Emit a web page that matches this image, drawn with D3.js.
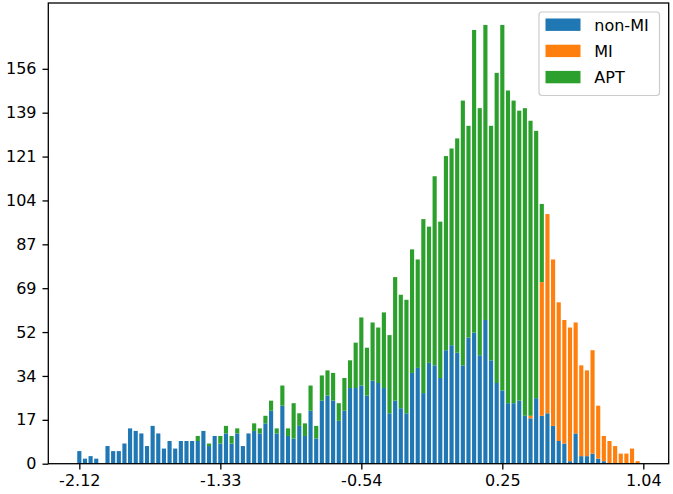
<!DOCTYPE html>
<html>
<head>
<meta charset="utf-8">
<script src="https://cdn.jsdelivr.net/npm/d3@7"></script>
<style>
  html, body { margin: 0; padding: 0; background: #fff; }
  svg { display: block; }
  text { font-family: "DejaVu Sans", sans-serif; fill: #000; }
</style>
</head>
<body>
<svg id="chart" width="673" height="494"></svg>
<script>
// ---- data ----
const binStart = -2.12;
const binWidth = 0.0316;
const nonMI = [5,2,3,2,0,7,5,5,8,14,13,12,7,15,12,6,9,6,9,9,
  9,9,13,7,11,8,12,8,12,7,12,13,12,16,21,12,23,11,10,15,
  11,21,10,25,27,25,17,21,30,30,31,27,33,32,30,20,25,22,20,36,
  38,28,40,39,34,45,47,44,39,50,52,43,57,41,32,29,24,24,25,19,
  18,26,19,20,15,9,8,1,12,3,3,4,2,1,0,0,0,0,0,0];
const MI = [0,0,0,0,0,0,0,0,0,0,0,0,0,0,0,0,0,0,0,0,
  0,0,0,0,0,0,0,0,0,0,0,0,0,0,0,0,0,0,0,0,
  0,0,0,0,0,0,0,0,0,0,0,0,0,0,0,0,0,0,0,0,
  0,0,0,0,0,0,0,0,0,0,0,0,0,0,0,0,0,0,0,0,
  1,0,53,79,66,55,49,53,44,36,34,41,21,10,9,7,4,4,6,1];
const APT = [0,0,0,0,0,0,0,0,0,0,0,0,0,0,0,0,0,0,0,0,
  0,2,0,1,0,3,3,3,2,0,0,3,2,3,4,2,8,3,14,5,
  5,10,5,10,10,11,7,13,11,18,27,19,23,22,30,31,49,45,45,49,
  43,69,54,75,62,77,78,85,105,84,120,98,117,93,123,145,124,120,115,122,
  117,106,31,0,0,0,0,0,0,0,0,0,0,0,0,0,0,0,0,0];
const seriesNames = ["non-MI", "MI", "APT"];
const seriesColors = ["#1f77b4", "#ff7f0e", "#2ca02c"];
const xTickValues = [-2.12, -1.33, -0.54, 0.25, 1.04];
const xTickLabels = ["-2.12", "-1.33", "-0.54", "0.25", "1.04"];
const yTickValues = [0, 17.4, 34.8, 52.2, 69.6, 87, 104.4, 121.8, 139.2, 156.6];
const yTickLabels = ["0", "17", "34", "52", "69", "87", "104", "121", "139", "156"];

// ---- layout ----
const svg = d3.select("#chart");
const L = 48.3, R = 668.7, T = 3, B = 463.7;

const binCenters = nonMI.map((_, i) => binStart + i * binWidth);
const dataMin = binCenters[0] - binWidth / 2;
const dataMax = binCenters[binCenters.length - 1] + binWidth / 2;
const span = dataMax - dataMin;
const x = d3.scaleLinear().domain([dataMin - 0.05 * span, dataMax + 0.05 * span]).range([L, R]);

const rows = nonMI.map((v, i) => ({ i, c: binCenters[i], nonMI: v, MI: MI[i], APT: APT[i] }));
const stack = d3.stack().keys(["nonMI", "MI", "APT"])(rows);
const yMax = d3.max(rows, d => d.nonMI + d.MI + d.APT);
const y = d3.scaleLinear().domain([0, yMax * 1.05]).range([B, T]);

const barPx = x(binWidth) - x(0);
const barW = barPx - 1.5;

const g = svg.append("g");
stack.forEach((layer, k) => {
  g.append("g").attr("fill", seriesColors[k])
    .selectAll("rect").data(layer.filter(d => d[1] - d[0] > 0)).join("rect")
    .attr("x", d => x(d.data.c) - barW / 2)
    .attr("width", barW)
    .attr("y", d => y(d[1]))
    .attr("height", d => y(d[0]) - y(d[1]));
});

// axes
const xAxis = d3.axisBottom(x).tickValues(xTickValues)
  .tickFormat((d, i) => xTickLabels[i]).tickSize(5.8).tickPadding(5);
const xg = svg.append("g").attr("transform", `translate(0,${B})`).call(xAxis);
const yAxis = d3.axisLeft(y).tickValues(yTickValues)
  .tickFormat((d, i) => yTickLabels[i]).tickSize(5.8).tickPadding(6);
const yg = svg.append("g").attr("transform", `translate(${L},0)`).call(yAxis);
[xg, yg].forEach(a => {
  a.select(".domain").remove();
  a.selectAll(".tick line").attr("stroke", "#000").attr("stroke-width", 1.3);
  a.selectAll(".tick text").attr("font-size", "16px").attr("font-family", "DejaVu Sans").attr("fill", "#000");
});
xg.selectAll(".tick text").attr("dy", "0.71em");

// frame
svg.append("rect").attr("x", L).attr("y", T).attr("width", R - L).attr("height", B - T)
  .attr("fill", "none").attr("stroke", "#000").attr("stroke-width", 1.3);

// legend
const lg = svg.append("g");
lg.append("rect").attr("x", 539).attr("y", 12).attr("width", 120.5).attr("height", 83.5)
  .attr("rx", 3).attr("fill", "#fff").attr("fill-opacity", 0.8)
  .attr("stroke", "#cccccc").attr("stroke-width", 1.2);
seriesNames.forEach((name, k) => {
  const yy = 18.5 + k * 26.2;
  lg.append("rect").attr("x", 545.5).attr("y", yy).attr("width", 35).attr("height", 12.4)
    .attr("fill", seriesColors[k]);
  lg.append("text").attr("x", 594.3).attr("y", yy + 12.4).attr("font-size", "16px").text(name);
});
</script>
</body>
</html>
